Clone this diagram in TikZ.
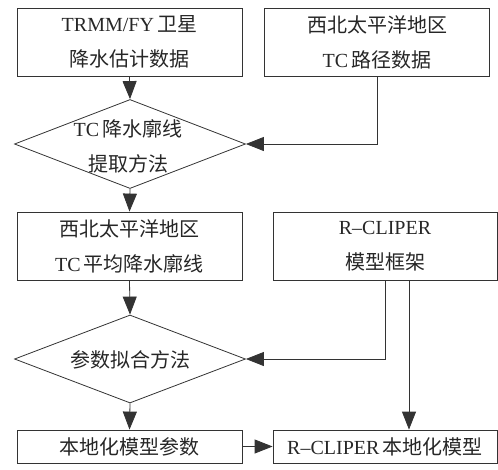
\documentclass[tikz,border=0pt]{standalone}
\usepackage{fontspec}
\setmainfont{Liberation Serif}
\newfontfamily\cjk{Noto Sans CJK SC}
\usetikzlibrary{arrows.meta,shapes.geometric}
\newcommand{\zhs}[1]{{\cjk #1}}
\begin{document}
\begin{tikzpicture}[x=1pt,y=-1pt,
  every node/.style={text=black!85},
  box/.style={draw=black!80,line width=0.8pt,rectangle,inner sep=0pt,align=center,
    font=\fontsize{20}{35}\selectfont},
  bigbox/.style={box,minimum width=225pt,minimum height=68pt},
  smallbox/.style={box,minimum width=225pt,minimum height=33pt},
  diam/.style={draw=black!80,line width=0.8pt,diamond,inner sep=0pt,minimum width=231pt,minimum height=89pt},
  dtext/.style={align=center,inner sep=0pt,font=\fontsize{20}{35}\selectfont},
  conn/.style={draw=black!80,line width=0.8pt,-{Triangle[length=18pt,width=14pt]}},
  line/.style={draw=black!80,line width=0.8pt}]
\useasboundingbox (0,0) rectangle (498,469);
\node[bigbox] (b1) at (129.5,42) {TRMM/FY\,\zhs{卫星}\\\zhs{降水估计数据}};
\node[bigbox] (b2) at (377,42) {\zhs{西北太平洋地区}\\TC\,\zhs{路径数据}};
\node[diam] (d1) at (130,144) {};
\node[dtext] at (128,146) {TC\,\zhs{降水廓线}\\\zhs{提取方法}};
\node[bigbox] (b3) at (129.5,246) {\zhs{西北太平洋地区}\\TC\,\zhs{平均降水廓线}};
\node[bigbox,minimum width=224pt] (b5) at (385,246) {R--CLIPER\\\zhs{模型框架}};
\node[diam,minimum height=88pt] (d2) at (130,359) {};
\node[dtext] at (130,360) {\zhs{参数拟合方法}};
\node[smallbox] (b4) at (129.5,446.5) {\zhs{本地化模型参数}};
\node[smallbox,minimum width=224pt] (b6) at (385,446.5) {R--CLIPER\,\zhs{本地化模型}};
\draw[conn] (b1.south) -- (d1.north);
\draw[conn] (b2.south) |- (d1.east);
\draw[conn] (d1.south) -- (b3.north);
\draw[conn] (b3.south) -- (d2.north);
\draw[conn] (b5.south) |- (d2.east);
\draw[conn] ([xshift=24pt]b5.south) -- ([xshift=24pt]b6.north);
\draw[conn] (d2.south) -- (b4.north);
\draw[conn] (b4.east) -- (b6.west);
\end{tikzpicture}
\end{document}
